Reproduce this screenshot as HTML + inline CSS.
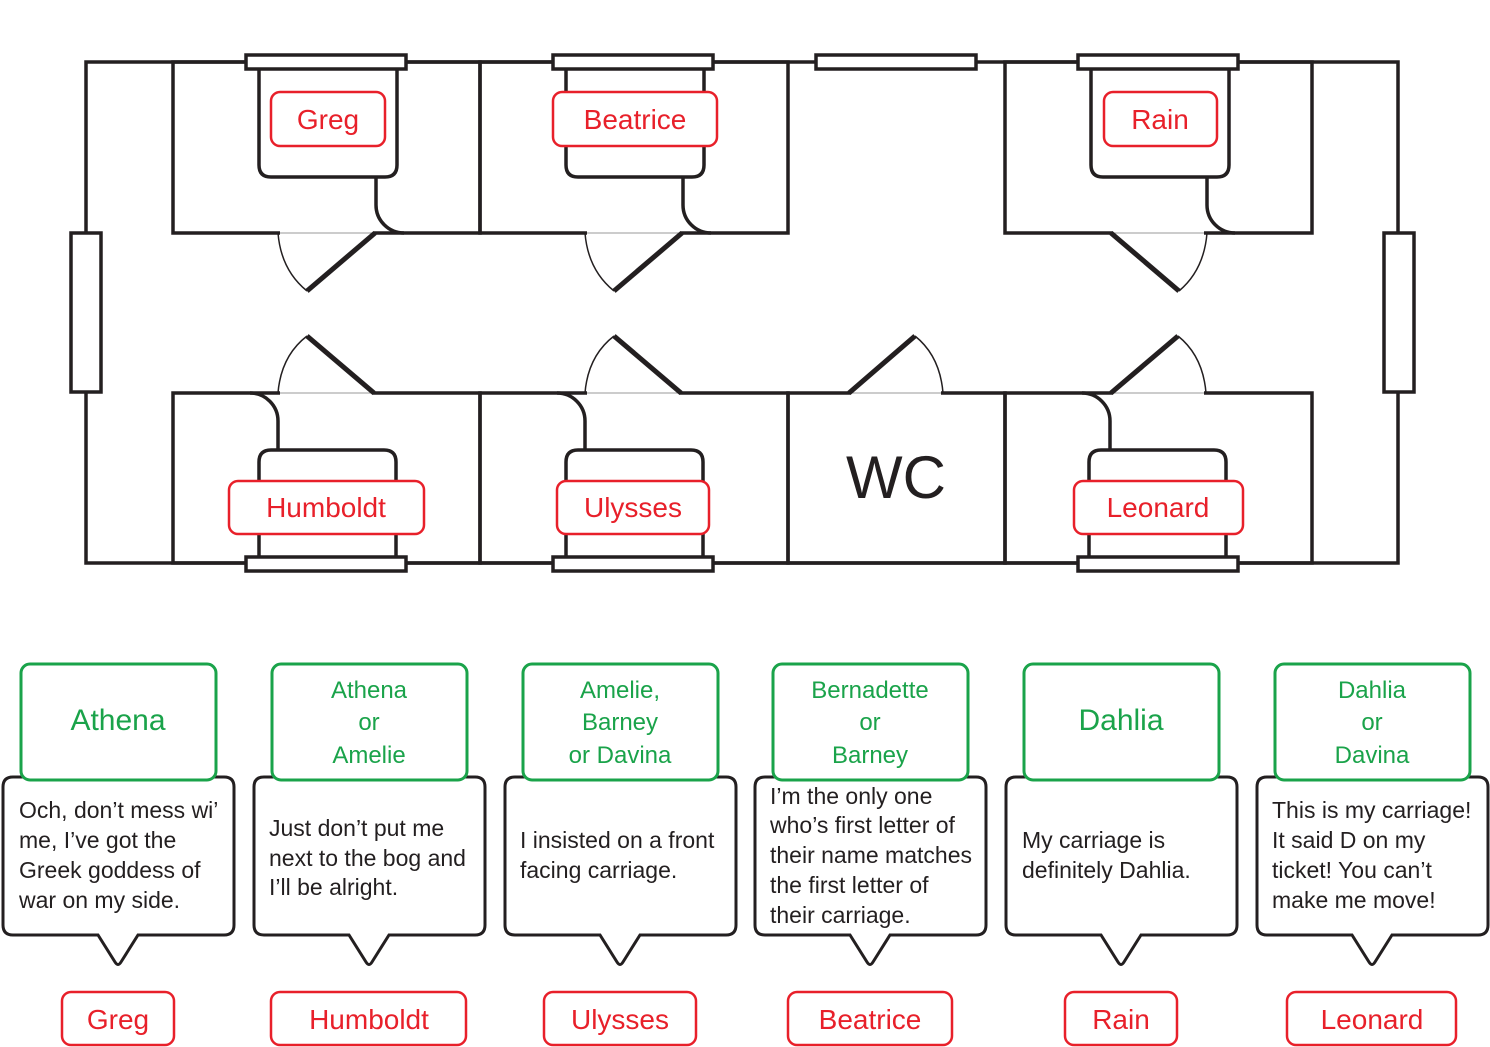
<!DOCTYPE html>
<html><head><meta charset="utf-8"><style>
html,body{margin:0;padding:0;background:#fff;}
svg{display:block;}
text{font-family:"Liberation Sans",sans-serif;}
</style></head><body>
<svg width="1490" height="1047" viewBox="0 0 1490 1047" xmlns="http://www.w3.org/2000/svg">
<g fill="none" stroke="#231f20" stroke-width="3.5">
<rect x="86" y="62" width="1312" height="501"/>
<rect x="71" y="233" width="30" height="159" fill="#fff"/>
<rect x="1384" y="233" width="30" height="159" fill="#fff"/>
<rect x="173" y="62" width="307" height="171"/>
<rect x="480" y="62" width="308" height="171"/>
<rect x="1005" y="62" width="307" height="171"/>
<rect x="173" y="393" width="307" height="170"/>
<rect x="480" y="393" width="308" height="170"/>
<rect x="788" y="393" width="217" height="170"/>
<rect x="1005" y="393" width="307" height="170"/>
</g>
<g stroke="#fff" stroke-width="5">
<line x1="280" y1="233" x2="373" y2="233"/>
<line x1="587" y1="233" x2="680" y2="233"/>
<line x1="1113" y1="233" x2="1204" y2="233"/>
<line x1="280" y1="393" x2="372" y2="393"/>
<line x1="587" y1="393" x2="679" y2="393"/>
<line x1="851" y1="393" x2="941" y2="393"/>
<line x1="1113" y1="393" x2="1204" y2="393"/>
</g>
<g stroke="#999" stroke-width="1">
<line x1="280" y1="233" x2="373" y2="233"/>
<line x1="587" y1="233" x2="680" y2="233"/>
<line x1="1113" y1="233" x2="1204" y2="233"/>
<line x1="280" y1="393" x2="372" y2="393"/>
<line x1="587" y1="393" x2="679" y2="393"/>
<line x1="851" y1="393" x2="941" y2="393"/>
<line x1="1113" y1="393" x2="1204" y2="393"/>
</g>
<g fill="#fff" stroke="#231f20" stroke-width="3.5">
<rect x="246" y="55" width="160" height="14"/>
<rect x="553" y="55" width="160" height="14"/>
<rect x="816" y="55" width="160" height="14"/>
<rect x="1078" y="55" width="160" height="14"/>
<rect x="246" y="557" width="160" height="14"/>
<rect x="553" y="557" width="160" height="14"/>
<rect x="1078" y="557" width="160" height="14"/>
</g>
<g fill="none" stroke="#231f20" stroke-width="3.5">
<path d="M259 70 V165 Q259 177 271 177 H385 Q397 177 397 165 V70"/>
<path d="M566 70 V165 Q566 177 578 177 H692 Q704 177 704 165 V70"/>
<path d="M1091 70 V165 Q1091 177 1103 177 H1217 Q1229 177 1229 165 V70"/>
<path d="M259 557 V462 Q259 450 271 450 H384 Q396 450 396 462 V557"/>
<path d="M566 557 V462 Q566 450 578 450 H691 Q703 450 703 462 V557"/>
<path d="M1089 557 V462 Q1089 450 1101 450 H1214 Q1226 450 1226 462 V557"/>
<path d="M376 177 V205 A28 28 0 0 0 404 233"/>
<path d="M683 177 V205 A28 28 0 0 0 711 233"/>
<path d="M1207 177 V205 A28 28 0 0 0 1235 233"/>
<path d="M278 450 V421 A28 28 0 0 0 250 393"/>
<path d="M585 450 V421 A28 28 0 0 0 557 393"/>
<path d="M1110 450 V421 A28 28 0 0 0 1082 393"/>
</g>
<g stroke="#231f20" stroke-width="5" stroke-linecap="butt">
<line x1="375" y1="233" x2="307" y2="291"/>
<line x1="682" y1="233" x2="614" y2="291"/>
<line x1="1111" y1="233" x2="1179" y2="291"/>
<line x1="374" y1="393" x2="307" y2="336"/>
<line x1="681" y1="393" x2="614" y2="336"/>
<line x1="849" y1="393" x2="915" y2="336"/>
<line x1="1111" y1="393" x2="1178" y2="336"/>
</g>
<g fill="none" stroke="#231f20" stroke-width="1.5">
<path d="M278 233 Q281 270 307 291"/>
<path d="M585 233 Q588 270 614 291"/>
<path d="M1207 233 Q1204 270 1179 291"/>
<path d="M278 393 Q281 356 307 336"/>
<path d="M585 393 Q588 356 614 336"/>
<path d="M943 393 Q940 356 915 336"/>
<path d="M1206 393 Q1203 356 1178 336"/>
</g>
<text x="896" y="498" font-size="60" text-anchor="middle" fill="#231f20">WC</text>
<g fill="#fff" stroke="#e8202a" stroke-width="2.5">
<rect x="271" y="92" width="114" height="54" rx="9"/>
<rect x="553" y="92" width="164" height="54" rx="9"/>
<rect x="1104" y="92" width="113" height="54" rx="9"/>
<rect x="229" y="481" width="195" height="53" rx="9"/>
<rect x="557" y="481" width="152" height="53" rx="9"/>
<rect x="1074" y="481" width="169" height="53" rx="9"/>
</g>
<g fill="#e8202a" font-size="28" text-anchor="middle">
<text x="328" y="129">Greg</text>
<text x="635" y="129">Beatrice</text>
<text x="1160" y="129">Rain</text>
<text x="326" y="517">Humboldt</text>
<text x="633" y="517">Ulysses</text>
<text x="1158" y="517">Leonard</text>
</g>
<g fill="#fff" stroke="#231f20" stroke-width="3">
<path d="M13 777 H224 Q234 777 234 787 V925 Q234 935 224 935 H138 L121 962 Q118 967 115 962 L98 935 H13 Q3 935 3 925 V787 Q3 777 13 777 Z"/>
<path d="M264 777 H475 Q485 777 485 787 V925 Q485 935 475 935 H389 L372 962 Q369 967 366 962 L349 935 H264 Q254 935 254 925 V787 Q254 777 264 777 Z"/>
<path d="M515 777 H726 Q736 777 736 787 V925 Q736 935 726 935 H640 L623 962 Q620 967 617 962 L600 935 H515 Q505 935 505 925 V787 Q505 777 515 777 Z"/>
<path d="M765 777 H976 Q986 777 986 787 V925 Q986 935 976 935 H890 L873 962 Q870 967 867 962 L850 935 H765 Q755 935 755 925 V787 Q755 777 765 777 Z"/>
<path d="M1016 777 H1227 Q1237 777 1237 787 V925 Q1237 935 1227 935 H1141 L1124 962 Q1121 967 1118 962 L1101 935 H1016 Q1006 935 1006 925 V787 Q1006 777 1016 777 Z"/>
<path d="M1267 777 H1478 Q1488 777 1488 787 V925 Q1488 935 1478 935 H1392 L1375 962 Q1372 967 1369 962 L1352 935 H1267 Q1257 935 1257 925 V787 Q1257 777 1267 777 Z"/>
</g>
<g fill="#fff" stroke="#1aa34a" stroke-width="3">
<rect x="21" y="664" width="195" height="116" rx="9"/>
<rect x="272" y="664" width="195" height="116" rx="9"/>
<rect x="523" y="664" width="195" height="116" rx="9"/>
<rect x="773" y="664" width="195" height="116" rx="9"/>
<rect x="1024" y="664" width="195" height="116" rx="9"/>
<rect x="1275" y="664" width="195" height="116" rx="9"/>
</g>
<g fill="#1aa34a" text-anchor="middle">
<text x="118" y="730" font-size="30">Athena</text>
<text x="369" y="698" font-size="24">Athena</text>
<text x="369" y="730" font-size="24">or</text>
<text x="369" y="763" font-size="24">Amelie</text>
<text x="620" y="698" font-size="24">Amelie,</text>
<text x="620" y="730" font-size="24">Barney</text>
<text x="620" y="763" font-size="24">or Davina</text>
<text x="870" y="698" font-size="24">Bernadette</text>
<text x="870" y="730" font-size="24">or</text>
<text x="870" y="763" font-size="24">Barney</text>
<text x="1121" y="730" font-size="30">Dahlia</text>
<text x="1372" y="698" font-size="24">Dahlia</text>
<text x="1372" y="730" font-size="24">or</text>
<text x="1372" y="763" font-size="24">Davina</text>
</g>
<g fill="#231f20" font-size="23">
<text x="19" y="818">Och, don’t mess wi’</text>
<text x="19" y="848">me, I’ve got the</text>
<text x="19" y="878">Greek goddess of</text>
<text x="19" y="908">war on my side.</text>
<text x="269" y="836">Just don’t put me</text>
<text x="269" y="866">next to the bog and</text>
<text x="269" y="895">I’ll be alright.</text>
<text x="520" y="848">I insisted on a front</text>
<text x="520" y="878">facing carriage.</text>
<text x="770" y="804">I’m the only one</text>
<text x="770" y="833">who’s first letter of</text>
<text x="770" y="863">their name matches</text>
<text x="770" y="893">the first letter of</text>
<text x="770" y="923">their carriage.</text>
<text x="1022" y="848">My carriage is</text>
<text x="1022" y="878">definitely Dahlia.</text>
<text x="1272" y="818">This is my carriage!</text>
<text x="1272" y="848">It said D on my</text>
<text x="1272" y="878">ticket! You can’t</text>
<text x="1272" y="908">make me move!</text>
</g>
<g fill="#fff" stroke="#e8202a" stroke-width="2.5">
<rect x="62" y="992" width="112" height="53" rx="9"/>
<rect x="271" y="992" width="195" height="53" rx="9"/>
<rect x="544" y="992" width="152" height="53" rx="9"/>
<rect x="788" y="992" width="164" height="53" rx="9"/>
<rect x="1065" y="992" width="112" height="53" rx="9"/>
<rect x="1287" y="992" width="169" height="53" rx="9"/>
</g>
<g fill="#e8202a" font-size="28" text-anchor="middle">
<text x="118" y="1029">Greg</text>
<text x="369" y="1029">Humboldt</text>
<text x="620" y="1029">Ulysses</text>
<text x="870" y="1029">Beatrice</text>
<text x="1121" y="1029">Rain</text>
<text x="1372" y="1029">Leonard</text>
</g>
</svg>
</body></html>
